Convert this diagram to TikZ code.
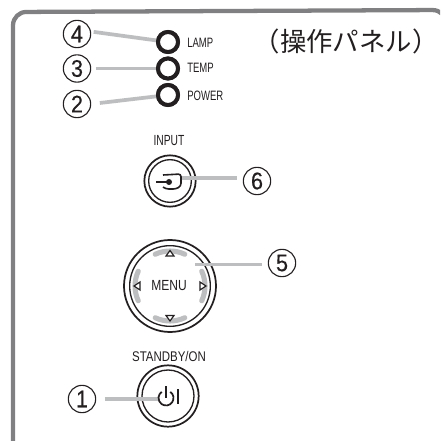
\documentclass[tikz,border=0pt]{standalone}
\usepackage{fontspec}
\setmainfont{Liberation Sans}
\newfontfamily\narrowf[FakeStretch=0.82]{Liberation Sans}
\newfontfamily\tightf[FakeStretch=0.7]{Liberation Sans}
\newfontfamily\digitf[FakeBold=0.4,FakeStretch=0.9]{Liberation Sans}
\newfontfamily\cjkf{Noto Sans CJK JP}
\usetikzlibrary{calc}
\definecolor{framegray}{HTML}{808082}
\definecolor{linkgray}{HTML}{BDBEC0}
\definecolor{inkblack}{HTML}{231F20}
\tikzset{
  x=0.75pt,y=-0.75pt,
  panel/.style={draw=framegray,line width=3.2pt,rounded corners=10pt},
  numcircle/.style={circle,draw=inkblack,line width=0.85pt,minimum size=20.5pt,inner sep=0pt,font=\digitf\fontsize{18}{18}\selectfont,text=inkblack},
  led/.style={circle,draw=inkblack,line width=3pt,minimum size=15pt,inner sep=0pt,fill=white},
  lbl/.style={inner sep=0pt,font=\tightf\fontsize{10.2}{12}\selectfont,text=inkblack},
  link/.style={draw=linkgray,line width=2.8pt},
  ringout/.style={circle,draw=inkblack,line width=1.3pt,inner sep=0pt},
  ringin/.style={circle,draw=inkblack,line width=1pt,inner sep=0pt},
  icon/.style={draw=inkblack,line width=1.2pt},
  tri/.style={draw=inkblack,line width=0.9pt,fill=white,line join=miter},
  softarc/.style={draw=linkgray,line width=3.8pt,line cap=round},
}
\begin{document}
\begin{tikzpicture}
\useasboundingbox (0,0) rectangle (440,441);
\fill[white] (0,0) rectangle (440,441);
\begin{scope}
\clip (0,0) rectangle (440,441);
\draw[panel] (13,460) -- (13,12) -- (446,10) -- (446,60);
\end{scope}

% LEDs
\node[led] (lamp) at (168,42) {};
\node[led] (temp) at (168,68.5) {};
\node[led] (power) at (168,95) {};
\node[lbl,anchor=west] (lamplbl) at (187,43) {LAMP};
\node[lbl,anchor=west] (templbl) at (187,68) {TEMP};
\node[lbl,anchor=west] (powerlbl) at (187,96) {POWER};

% numbered markers
\node[numcircle] (n4) at (77,34) {4};
\node[numcircle] (n3) at (77,68.5) {3};
\node[numcircle] (n2) at (77,104) {2};
\node[numcircle] (n6) at (257,181) {6};
\node[numcircle] (n5) at (282,263) {5};
\node[numcircle] (n1) at (82,399) {1};

% title
\node[inner sep=0pt,font=\cjkf\fontsize{19.8}{21}\selectfont,text=inkblack] (title) at (346,41) {（操作パネル）};

% input button
\node[lbl,font=\tightf\fontsize{11}{13}\selectfont] (inputlbl) at (169,141) {INPUT};
\node[ringout,minimum size=38.5pt] (inputout) at (170,181) {};
\node[ringin,minimum size=32pt] (inputin) at (170,181) {};
\coordinate (inputhub) at (180,178);
\draw[link,shorten >=4.5pt] (inputhub) -- (n6.west |- inputhub);
\draw[icon,rounded corners=2pt] (163,175) -- (181,174) -- (181,186) -- (176,189) -- (166,189) -- (163,187);
\draw[icon] (156,182) -- (168,182);
\fill[inkblack] (169,182) circle[radius=3];

% menu button
\node[ringout,minimum size=69pt] (menuout) at (170,286) {};
\node[ringin,minimum size=60.5pt] (menuin) at (170,286) {};
\node[lbl,font=\narrowf\fontsize{11}{13}\selectfont] (menulbl) at (169,286) {MENU};
\draw[softarc] (menuout.center) ++(-115:35) arc[start angle=-115,end angle=-65,radius=35];
\draw[softarc] (menuout.center) ++(65:35) arc[start angle=65,end angle=115,radius=35];
\draw[softarc] (menuout.center) ++(155:35) arc[start angle=155,end angle=205,radius=35];
\draw[softarc] (menuout.center) ++(-25:35) arc[start angle=-25,end angle=25,radius=35];
\draw[tri] (170,250.5) -- (174,256) -- (166,256) -- cycle;
\draw[tri] (170,321) -- (174,315.5) -- (166,315.5) -- cycle;
\draw[tri] (134,286) -- (140,282) -- (140,290) -- cycle;
\draw[tri] (206,286) -- (200,282) -- (200,290) -- cycle;
\coordinate (menuhub) at (195,264.5);
\draw[link,shorten >=4pt] (menuhub) -- (n5.west |- menuhub);

% standby button
\node[lbl,font=\narrowf\fontsize{10.5}{13}\selectfont] (standbylbl) at (169,356) {STANDBY/ON};
\node[ringout,minimum size=46pt] (standout) at (168,396) {};
\node[ringin,minimum size=39pt] (standin) at (168,396) {};
\coordinate (standhub) at (158,399);

% connectors
\draw[link,shorten <=2pt] (n4.10) -- (lamp);
\draw[link,shorten <=3.5pt] (n3.east) -- (temp);
\draw[link,shorten <=6.5pt] (n2.east) -- (power);
\draw[link,shorten <=6.5pt] (n1.east) -- (standhub);
\node[led] at (lamp) {};
\node[led] at (temp) {};
\node[led] at (power) {};

% power icon
\draw[icon,line width=1.3pt] (166,398) ++(-55:7.5) arc[start angle=-55,end angle=235,radius=7.5];
\draw[icon,line width=1.3pt] (166,386) -- (166,398);
\draw[icon,line width=1.3pt] (178,389) -- (178,404);
\end{tikzpicture}
\end{document}
